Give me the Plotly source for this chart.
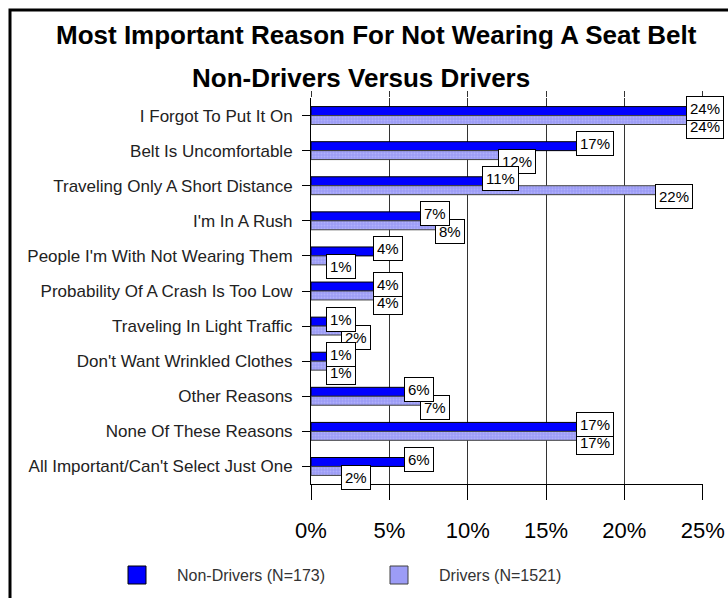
import plotly.graph_objects as go

categories = [
    "I Forgot To Put It On",
    "Belt Is Uncomfortable",
    "Traveling Only A Short Distance",
    "I'm In A Rush",
    "People I'm With Not Wearing Them",
    "Probability Of A Crash Is Too Low",
    "Traveling In Light Traffic",
    "Don't Want Wrinkled Clothes",
    "Other Reasons",
    "None Of These Reasons",
    "All Important/Can't Select Just One",
]
non_drivers = [24, 17, 11, 7, 4, 4, 1, 1, 6, 17, 6]
drivers = [24, 12, 22, 8, 1, 4, 2, 1, 7, 17, 2]
x_ticks = [0, 5, 10, 15, 20, 25]
x_tick_labels = ["0%", "5%", "10%", "15%", "20%", "25%"]
series_names = ["Non-Drivers (N=173)", "Drivers (N=1521)"]
title_line1 = "Most Important Reason For Not Wearing A Seat Belt"
title_line2 = "Non-Drivers Versus Drivers"

FONT = "Liberation Sans, Arial, sans-serif"
W_FIG, H_FIG = 728, 598
L, R, T, B = 311, 25, 98, 114
PW = W_FIG - L - R
PH = H_FIG - T - B
BOTTOM = H_FIG - B

def px(x):
    return (x - L) / PW

def py(y):
    return (BOTTOM - y) / PH

ND_COLOR = "#0000ff"
D_COLOR = "#9c9cf6"

fig = go.Figure()
fig.add_trace(go.Bar(
    y=categories, x=non_drivers, orientation="h", name=series_names[0],
    marker=dict(color=ND_COLOR, line=dict(color="#000000", width=1)),
    showlegend=False,
))
fig.add_trace(go.Bar(
    y=categories, x=drivers, orientation="h", name=series_names[1],
    marker=dict(color=D_COLOR, line=dict(color="#404040", width=1),
                pattern=dict(shape=".", fgcolor="#c4c4ff", size=3, solidity=0.35,
                             fillmode="overlay")),
    showlegend=False,
))
fig.add_trace(go.Scatter(x=[0, 25], y=[categories[0], categories[0]], xaxis="x2",
                         mode="markers", marker=dict(opacity=0, size=1), hoverinfo="skip",
                         showlegend=False))

annotations = []
box = dict(xref="x", yref="y", xanchor="left", yanchor="middle", showarrow=False,
           bgcolor="#ffffff", bordercolor="#000000", borderwidth=1, borderpad=3,
           font=dict(family=FONT, size=15, color="#000000"))
for c, v in zip(categories, drivers):
    annotations.append(dict(box, x=v, y=c, text=f"{v}%", xshift=-1, yshift=-11))
for c, v in zip(categories, non_drivers):
    annotations.append(dict(box, x=v, y=c, text=f"{v}%", xshift=-1, yshift=7))

annotations.append(dict(xref="paper", yref="paper", x=px(376), y=py(35),
                        xanchor="center", yanchor="middle", showarrow=False,
                        text=f"<b>{title_line1}</b>",
                        font=dict(family=FONT, size=26, color="#000000")))
annotations.append(dict(xref="paper", yref="paper", x=px(361), y=py(78),
                        xanchor="center", yanchor="middle", showarrow=False,
                        text=f"<b>{title_line2}</b>",
                        font=dict(family=FONT, size=26, color="#000000")))

shapes = []
leg = [(128, 175, ND_COLOR, "#000000"), (390, 437, D_COLOR, "#404040")]
for (sx, tx, col, lc), name in zip(leg, series_names):
    shapes.append(dict(type="rect", xref="paper", yref="paper",
                       x0=px(sx), x1=px(sx + 18), y0=py(584), y1=py(566),
                       fillcolor=col, line=dict(color=lc, width=1)))
    annotations.append(dict(xref="paper", yref="paper", x=px(tx), y=py(575),
                            xanchor="left", yanchor="middle", showarrow=False,
                            text=name, font=dict(family=FONT, size=16, color="#333333")))

shapes.append(dict(type="rect", xref="paper", yref="paper",
                   x0=px(10), x1=px(760), y0=py(640), y1=py(10),
                   line=dict(color="#000000", width=3), fillcolor="rgba(0,0,0,0)"))

n = len(categories)
fig.update_layout(
    width=W_FIG, height=H_FIG, autosize=False,
    margin=dict(l=L, r=R, t=T, b=B, pad=0, autoexpand=False),
    paper_bgcolor="#ffffff", plot_bgcolor="#ffffff",
    barmode="group", bargap=0.49, bargroupgap=0,
    annotations=annotations, shapes=shapes,
    font=dict(family=FONT, color="#222222"),
    xaxis=dict(range=[0, 25.02], tickvals=x_ticks, ticktext=x_tick_labels,
               automargin=False,
               showgrid=True, gridcolor="#333333", gridwidth=1,
               showline=True, linecolor="#000000", linewidth=1,
               ticks="outside", ticklen=15, tickcolor="#000000",
               ticklabelstandoff=12, zeroline=False,
               tickfont=dict(family=FONT, size=22, color="#000000")),
    xaxis2=dict(range=[0, 25.02], tickvals=x_ticks, overlaying="x", side="top",
                automargin=False,
                showticklabels=False, ticks="outside", ticklen=6,
                tickcolor="#333333", showgrid=False, showline=False, zeroline=False),
    yaxis=dict(range=[n - 0.5, -0.5], autorange=False,
               showline=True, linecolor="#000000", linewidth=1,
               automargin=False,
               ticks="outside", ticklen=8, tickcolor="#000000", showgrid=False,
               ticklabelstandoff=6,
               tickfont=dict(family=FONT, size=17, color="#222222")),
)

fig.write_html("out.html")
